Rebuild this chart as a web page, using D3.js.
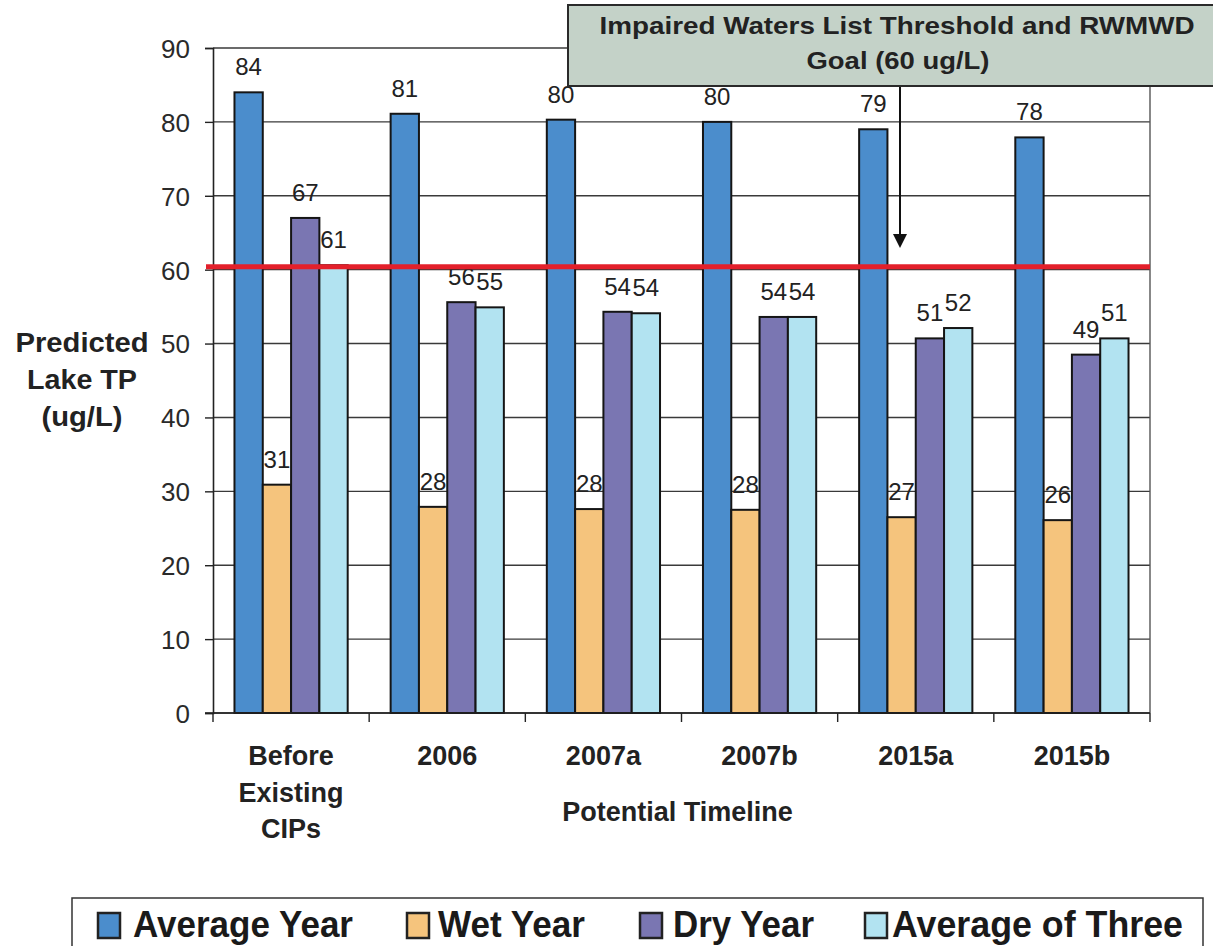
<!DOCTYPE html>
<html>
<head>
<meta charset="utf-8">
<script src="https://cdn.jsdelivr.net/npm/d3@7/dist/d3.min.js"></script>
<style>
  html, body { margin: 0; padding: 0; background: #fff; }
  svg { display: block; font-family: "Liberation Sans", Arial, sans-serif; }
</style>
</head>
<body>
<svg id="chart" width="1213" height="946"></svg>
<script>
// ---- data ----
const categories = ["Before Existing CIPs", "2006", "2007a", "2007b", "2015a", "2015b"];
const categoryLines = [["Before", "Existing", "CIPs"], ["2006"], ["2007a"], ["2007b"], ["2015a"], ["2015b"]];
const seriesNames = ["Average Year", "Wet Year", "Dry Year", "Average of Three"];
const averageYear = [84.0, 81.1, 80.3, 80.0, 79.0, 77.9];
const wetYear = [30.9, 27.9, 27.6, 27.5, 26.5, 26.1];
const dryYear = [67.0, 55.6, 54.3, 53.6, 50.7, 48.5];
const averageOfThree = [60.6, 54.9, 54.1, 53.6, 52.1, 50.7];
const yTicks = [0, 10, 20, 30, 40, 50, 60, 70, 80, 90];
const threshold = 60;
const seriesColors = ["#4b8dcc", "#f5c47d", "#7a76b2", "#b2e3f1"];
const yTitleLines = ["Predicted", "Lake TP", "(ug/L)"];
const xTitle = "Potential Timeline";
const noteLines = ["Impaired Waters List Threshold and RWMWD", "Goal (60 ug/L)"];

const seriesValues = [averageYear, wetYear, dryYear, averageOfThree];

// ---- layout ----
const svg = d3.select("#chart");
const pLeft = 213, pRight = 1150, pTop = 48, pBottom = 713;

const y = d3.scaleLinear().domain([0, 90]).range([pBottom, pTop]);
const x0 = d3.scaleBand().domain(categories).range([pLeft, pRight])
  .paddingInner(0.275).paddingOuter(0.1375);
const x1 = d3.scaleBand().domain(seriesNames).range([0, x0.bandwidth()]);
const color = d3.scaleOrdinal().domain(seriesNames).range(seriesColors);

// gridlines
svg.append("g").selectAll("line").data(yTicks).join("line")
  .attr("x1", pLeft).attr("x2", pRight)
  .attr("y1", d => y(d)).attr("y2", d => y(d))
  .attr("stroke", "#3a3a3a").attr("stroke-width", 1.4);

// right border
svg.append("line").attr("x1", pRight).attr("x2", pRight)
  .attr("y1", pTop).attr("y2", pBottom)
  .attr("stroke", "#555").attr("stroke-width", 1.4);

// y axis
const yAxis = d3.axisLeft(y).tickValues(yTicks).tickSize(8).tickPadding(15).tickFormat(d3.format("d"));
const yg = svg.append("g").attr("transform", `translate(${pLeft},0)`).call(yAxis);
yg.select(".domain").attr("stroke", "#222").attr("stroke-width", 1.6);
yg.selectAll(".tick line").attr("stroke", "#222").attr("stroke-width", 1.4);
yg.selectAll(".tick text").attr("font-size", 26).attr("fill", "#2a2a2a")
  .attr("font-family", "'Liberation Sans', Arial, sans-serif").attr("dy", "0.36em");

// bars
const groups = svg.append("g").selectAll("g").data(categories).join("g")
  .attr("transform", d => `translate(${x0(d)},0)`);

groups.selectAll("rect")
  .data((c, i) => seriesNames.map((s, k) => ({ s, v: seriesValues[k][i] })))
  .join("rect")
  .attr("x", d => x1(d.s))
  .attr("y", d => y(d.v))
  .attr("width", x1.bandwidth())
  .attr("height", d => y(0) - y(d.v))
  .attr("fill", d => color(d.s))
  .attr("stroke", "#151515").attr("stroke-width", 2);

// x axis line and boundary ticks
svg.append("line").attr("x1", pLeft - 8).attr("x2", pRight)
  .attr("y1", pBottom).attr("y2", pBottom)
  .attr("stroke", "#222").attr("stroke-width", 1.6);
const boundaries = categories.map(c => x0(c) - x0.step() * x0.paddingInner() / 2).concat([pRight]);
svg.append("g").selectAll("line").data(boundaries).join("line")
  .attr("x1", d => d).attr("x2", d => d)
  .attr("y1", pBottom).attr("y2", pBottom + 9)
  .attr("stroke", "#222").attr("stroke-width", 1.4);

// threshold line
svg.append("line").attr("x1", pLeft - 7).attr("x2", pRight)
  .attr("y1", y(threshold) - 3).attr("y2", y(threshold) - 3)
  .attr("stroke", "#e3202b").attr("stroke-width", 5);

// value labels
groups.selectAll("text.val")
  .data((c, i) => seriesNames.map((s, k) => ({ s, v: seriesValues[k][i] })))
  .join("text").attr("class", "val")
  .attr("x", d => x1(d.s) + x1.bandwidth() / 2)
  .attr("y", d => y(d.v) - 17)
  .attr("text-anchor", "middle")
  .attr("font-size", 24).attr("fill", "#222")
  .text(d => Math.round(d.v));

// category labels
const cl = svg.append("g").selectAll("text").data(categories).join("text")
  .attr("text-anchor", "middle")
  .attr("font-size", 27).attr("font-weight", "bold").attr("fill", "#222");
cl.each(function (c, i) {
  const t = d3.select(this);
  categoryLines[i].forEach((line, j) => {
    t.append("tspan")
      .attr("x", x0(c) + x0.bandwidth() / 2)
      .attr("y", 765 + j * 36.5)
      .text(line);
  });
});

// x title
svg.append("text").attr("x", (pLeft + pRight) / 2 - 4).attr("y", 821)
  .attr("text-anchor", "middle").attr("font-size", 27).attr("font-weight", "bold")
  .attr("fill", "#222").text(xTitle);

// y title
const yTitleW = [133, 110, 81];
svg.append("g").selectAll("text").data(yTitleLines).join("text")
  .attr("text-anchor", "middle").attr("font-size", 27)
  .attr("font-weight", "bold").attr("fill", "#222")
  .attr("x", 82).attr("y", (d, i) => 352 + i * 37)
  .attr("textLength", (d, i) => yTitleW[i]).attr("lengthAdjust", "spacingAndGlyphs")
  .text(d => d);

// annotation arrow
const ax = 900;
svg.append("line").attr("x1", ax).attr("x2", ax).attr("y1", 86).attr("y2", 236)
  .attr("stroke", "#111").attr("stroke-width", 2);
svg.append("path").attr("d", `M${ax - 7},234 L${ax + 7},234 L${ax},248 Z`).attr("fill", "#111");

// annotation box
svg.append("rect").attr("x", 568).attr("y", 5).attr("width", 660).attr("height", 81)
  .attr("fill", "#c4d2c8").attr("stroke", "#2a2a2a").attr("stroke-width", 2);
svg.append("text").attr("x", 897).attr("y", 34).attr("text-anchor", "middle")
  .attr("font-size", 24).attr("font-weight", "bold").attr("fill", "#222")
  .attr("textLength", 595).attr("lengthAdjust", "spacingAndGlyphs")
  .text(noteLines[0]);
svg.append("text").attr("x", 898).attr("y", 69).attr("text-anchor", "middle")
  .attr("font-size", 24).attr("font-weight", "bold").attr("fill", "#222")
  .attr("textLength", 183).attr("lengthAdjust", "spacingAndGlyphs")
  .text(noteLines[1]);

// legend
svg.append("rect").attr("x", 72).attr("y", 898).attr("width", 1131).attr("height", 80)
  .attr("fill", "#fff").attr("stroke", "#333").attr("stroke-width", 1.5);
const legendX = [98, 407, 640, 865];
const legendTextX = [133, 438, 673, 892];
const legendW = [220, 147, 141, 291];
const lg = svg.append("g").selectAll("g").data(seriesNames).join("g");
lg.append("rect")
  .attr("x", (d, i) => legendX[i]).attr("y", 913)
  .attr("width", 22).attr("height", 25)
  .attr("fill", d => color(d)).attr("stroke", "#222").attr("stroke-width", 2.5);
lg.append("text")
  .attr("x", (d, i) => legendTextX[i]).attr("y", 937)
  .attr("font-size", 37).attr("font-weight", "bold").attr("fill", "#1a1a1a")
  .attr("textLength", (d, i) => legendW[i]).attr("lengthAdjust", "spacingAndGlyphs")
  .text(d => d);
</script>
</body>
</html>
